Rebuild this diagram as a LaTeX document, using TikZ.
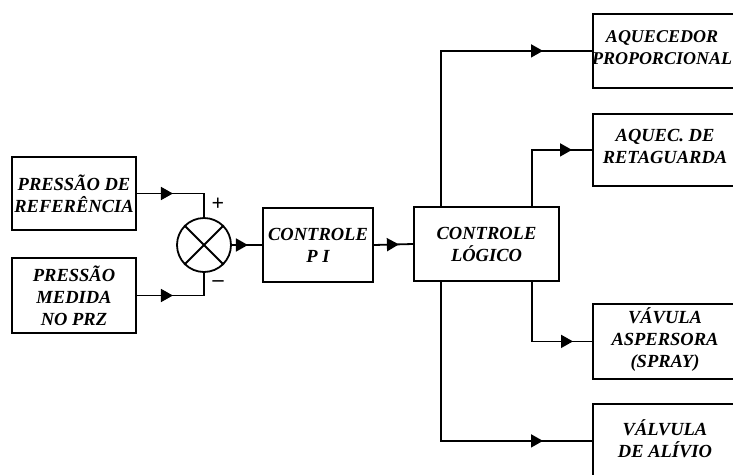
\documentclass[tikz,border=0pt]{standalone}
\usepackage{fontspec}
\setmainfont{Liberation Serif}
\usetikzlibrary{arrows.meta,decorations.markings,calc}
\begin{document}
\begin{tikzpicture}[x=1pt,y=-1pt,
  lbl/.style={font=\fontsize{18.5}{22}\selectfont\bfseries\itshape, align=center, inner sep=0pt},
  blk/.style={draw, line width=1.8pt, inner sep=0pt, lbl},
  wire/.style={line width=1.8pt},
  sgn/.style={font=\fontsize{22}{22}\selectfont\bfseries, inner sep=0pt},
  arr/.style={postaction={decorate}, decoration={markings, mark=at position #1 with {\arrow{Triangle[length=12pt,width=13pt]}}}}
]
\useasboundingbox (0,0) rectangle (733,474);
\clip (0,0) rectangle (733,474);
\fill[white] (0,0) rectangle (733,474);

% input boxes
\node[blk, minimum width=124pt, minimum height=73pt] (ref) at (74,193.5) {PRESSÃO DE\\REFERÊNCIA};
\node[blk, minimum width=124pt, minimum height=75pt] (med) at (74,295.5) {PRESSÃO\\MEDIDA\\NO PRZ};

% summing junction
\node[draw, circle, line width=1.8pt, minimum size=54pt, inner sep=0pt] (sum) at (204,245) {};
\draw[wire] (sum.north west) -- (sum.south east);
\draw[wire] (sum.north east) -- (sum.south west);
\node[sgn] (plus) at (218,204) {+};
\node[sgn] (minus) at (218,284) {–};

% controllers
\node[blk, minimum width=110pt, minimum height=74pt] (pi) at (318,245) {CONTROLE\\P I};
\node[blk, minimum width=145pt, minimum height=74pt] (logic) at (486.5,244) {CONTROLE\\LÓGICO};

% output boxes (cut off at right edge)
\node[blk, minimum width=150pt, minimum height=74pt, anchor=north west] (b1) at (592,13) {};
\node[blk, minimum width=150pt, minimum height=72pt, anchor=north west] (b2) at (592,113) {};
\node[blk, minimum width=150pt, minimum height=75pt, anchor=north west] (b3) at (592,303) {};
\node[blk, minimum width=150pt, minimum height=74pt, anchor=north west] (b4) at (592,403) {};
\node[lbl, font=\fontsize{18}{22}\selectfont\bfseries\itshape] (t1) at (662,48) {AQUECEDOR\\PROPORCIONAL};
\node[lbl] (t2) at (665,146) {AQUEC. DE\\RETAGUARDA};
\node[lbl] (t3) at (665,340) {VÁVULA\\ASPERSORA\\(SPRAY)};
\node[lbl] (t4) at (665,439) {VÁLVULA\\DE ALÍVIO};

% connectors
\draw[wire, arr=36pt] (ref.east) -| (sum.north);
\draw[wire, arr=36pt] (med.east) -| (sum.south);
\draw[wire, arr=16pt] (sum.east) -- (pi.west);
\draw[wire, arr=25pt] (pi.east) -- (logic.west);
\draw[wire, arr=-49pt] ($(logic.north west)+(28,0)$) |- (b1.west);
\draw[wire, arr=-20pt] ($(logic.north west)+(119,0)$) |- (b2.west);
\draw[wire, arr=-19pt] ($(logic.south west)+(119,0)$) |- (b3.west);
\draw[wire, arr=-49pt] ($(logic.south west)+(28,0)$) |- (b4.west);
\end{tikzpicture}
\end{document}
